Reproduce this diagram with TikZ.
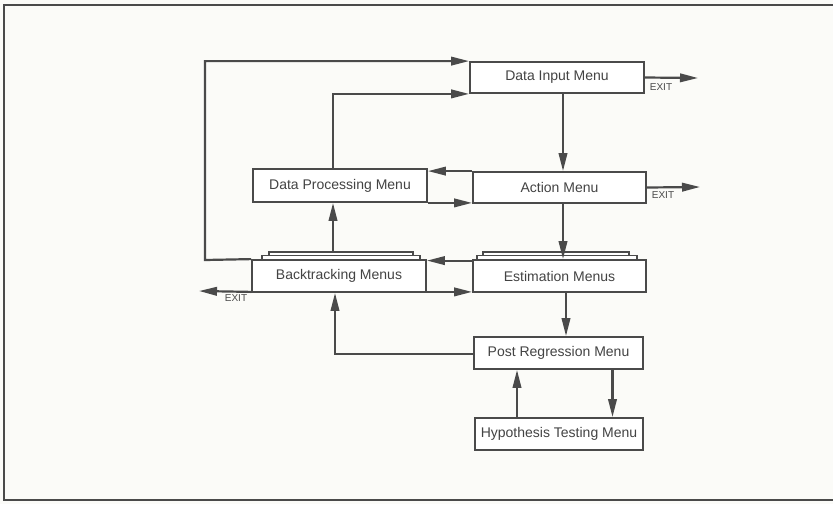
\documentclass[tikz,border=0pt]{standalone}
\usepackage{fontspec}
\setmainfont{Liberation Sans}
\usetikzlibrary{arrows.meta,calc}
\definecolor{ink}{HTML}{4A4A4A}
\definecolor{paper}{HTML}{FBFBF8}
\begin{document}
\begin{tikzpicture}[x=1pt,y=-1pt,
  menubox/.style={draw=ink,line width=1.8pt,fill=white,minimum height=32pt,inner sep=0pt,
    text=ink!90!black,font=\fontsize{14}{16}\selectfont},
  arr/.style={draw=ink,line width=2.2pt,-{Triangle[length=18pt,width=8.5pt]}},
  tab/.style={draw=ink,line width=1.2pt,fill=white},
  exitlbl/.style={text=ink,font=\fontsize{10}{11}\selectfont,inner sep=0pt}]
\useasboundingbox (0,0) rectangle (833,504);
\fill[paper] (0,0) rectangle (833,504);
% frame
\draw[ink,line width=2.2pt] (833,5) -- (4,5) -- (4,500) -- (833,500);

% stacked tabs
\draw[tab] (269,252) rectangle (413,256);
\draw[tab] (262,255.5) rectangle (420,260);
\draw[tab] (483,252) rectangle (629,256);
\draw[tab] (477,255.5) rectangle (637,260);

% nodes
\node[menubox,minimum width=174pt,minimum height=31pt] (DI) at (557,77.5) {Data Input Menu};
\node[menubox,minimum width=173pt,minimum height=31pt] (AM) at (559.5,187.5) {Action Menu};
\node[menubox,minimum width=174pt,minimum height=33pt] (DP) at (340,185.5) {Data Processing Menu};
\node[menubox,minimum width=174pt] (BT) at (339,276) {Backtracking Menus};
\node[menubox,minimum width=173pt] (ES) at (559.5,276) {Estimation Menus};
\node[menubox,minimum width=169pt] (PR) at (558.5,353) {Post Regression Menu};
\node[menubox,minimum width=168pt] (HT) at (559,434) {Hypothesis Testing Menu};

% named free ends
\coordinate (L1) at (205,260);
\coordinate (BTtop) at (333,252);
\coordinate (XDI) at (698,78);
\coordinate (XAM) at (700,187);
\coordinate (XBT) at (199,291);

% connectors
\draw[arr] (BT.north west) -- (L1) |- (DI.north west);
\draw[arr] ([xshift=-7pt]DP.north) |- (DI.south west);
\draw[arr] ([xshift=6pt]DI.south) -- ([xshift=6pt]DI.south |- AM.north);
\draw[arr] (AM.north west) -- (AM.north west -| DP.east);
\draw[arr] (DP.south east) -- (DP.south east -| AM.west);
\draw[arr] ([xshift=3.5pt]AM.south) -- ([xshift=3.5pt]AM.south |- ES.north);
\draw[arr] (BTtop) -- (BTtop |- DP.south);
\draw[arr] ([yshift=-1.5pt]ES.north west) -- ([yshift=-1.5pt]ES.north west -| BT.east);
\draw[arr] ([yshift=1pt]BT.south east) -- ([yshift=1pt]BT.south east -| ES.west);
\draw[arr] ([yshift=1pt]BT.south west) -- (XBT);
\draw[arr] ([xshift=6.5pt]ES.south) -- ([xshift=6.5pt]ES.south |- PR.north);
\draw[arr] ([yshift=-1pt]PR.west) -| ([xshift=-4pt]BT.south);
\draw[arr] ([xshift=-42pt]HT.north) -- ([xshift=-42pt]HT.north |- PR.south);
\draw[arr] ([xshift=54pt]PR.south) -- ([xshift=54pt]PR.south |- HT.north);
\draw[arr] (DI.east) -- (XDI);
\draw[arr] (AM.east) -- (XAM);

% exit labels
\node[exitlbl] (eDI) at (661,87) {EXIT};
\node[exitlbl] (eAM) at (663,195) {EXIT};
\node[exitlbl] (eBT) at (236,298) {EXIT};
\end{tikzpicture}
\end{document}
